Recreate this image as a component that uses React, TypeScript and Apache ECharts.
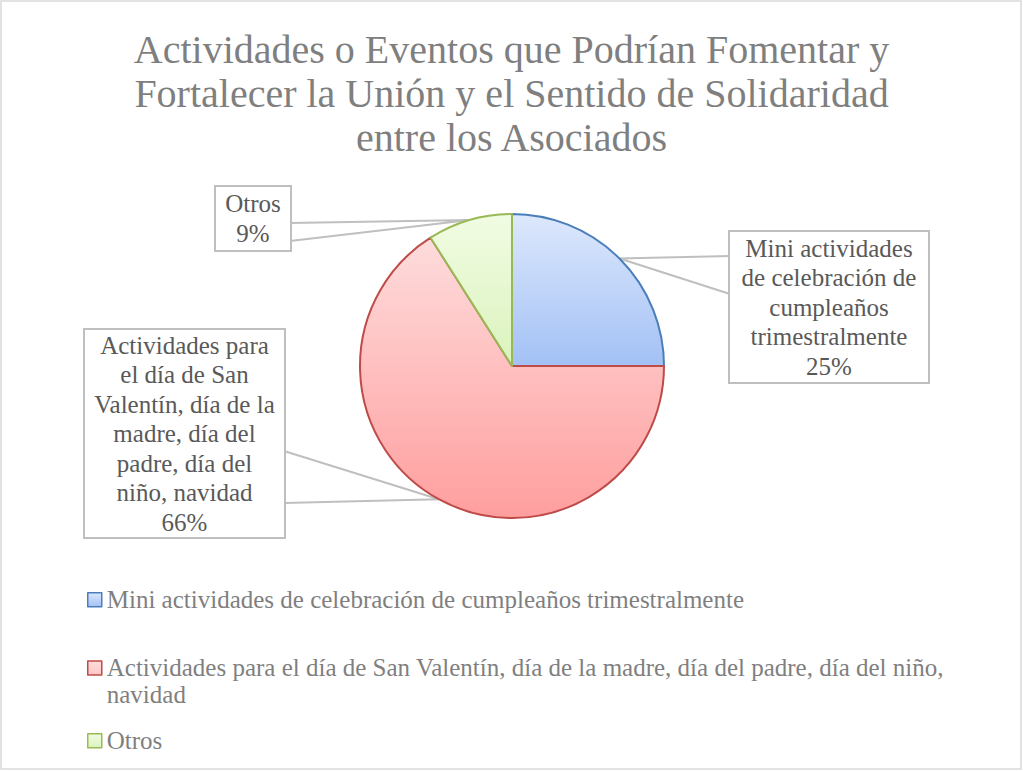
import React, { useEffect, useRef } from "react";
import * as echarts from "echarts";

const titleLines = [
  "Actividades o Eventos que Podrían Fomentar y",
  "Fortalecer la Unión y el Sentido de Solidaridad",
  "entre los Asociados",
];
const categories = [
  "Mini actividades de celebración de cumpleaños trimestralmente",
  "Actividades para el día de San Valentín, día de la madre, día del padre, día del niño, navidad",
  "Otros",
];
const values = [25, 66, 9];
const labelLines = [
  ["Mini actividades", "de celebración de", "cumpleaños", "trimestralmente"],
  ["Actividades para", "el día de San", "Valentín, día de la", "madre, día del", "padre, día del", "niño, navidad"],
  ["Otros"],
];
const legendLines = [
  ["Mini actividades de celebración de cumpleaños trimestralmente"],
  ["Actividades para el día de San Valentín, día de la madre, día del padre, día del niño,", "navidad"],
  ["Otros"],
];

const borderColors = ["#4a7ebb", "#be4b48", "#98b954"];
const gradTop = ["#dde8fc", "#fedcdc", "#f1fce3"];
const gradBottom = ["#a3c1f5", "#ff9e9e", "#dbf3bd"];

// label box layout: center, box edge x, wedge end y's, box size
const boxLayout = [
  { cx: 829, cy: 307, edgeX: 730, y1: 256, y2: 294, w: 180, h: 148 },
  { cx: 184.5, cy: 433.5, edgeX: 284, y1: 451, y2: 503, w: 181, h: 205 },
  { cx: 253, cy: 218.5, edgeX: 290, y1: 223, y2: 241, w: 56, h: 61 },
];

const legendTops = [586, 653.5, 727];
const FONT = "'Liberation Serif', 'DejaVu Serif', serif";

function grad(i: number) {
  return new echarts.graphic.LinearGradient(0, 0, 0, 1, [
    { offset: 0, color: gradTop[i] },
    { offset: 1, color: gradBottom[i] },
  ]);
}

export default function App() {
  const ref = useRef<HTMLDivElement>(null);
  useEffect(() => {
    if (!ref.current) return;
    const chart = echarts.init(ref.current, undefined, { renderer: "svg" });
    const option: any = {
      animation: false,
      backgroundColor: "#ffffff",
      title: {
        text: titleLines.join("\n"),
        left: "center",
        top: 22,
        textStyle: {
          fontFamily: FONT,
          fontSize: 40,
          lineHeight: 44,
          fontWeight: "normal",
          color: "#7f7f7f",
        },
      },
      graphic: [
        {
          type: "rect",
          z: -10,
          shape: { x: 1, y: 1, width: 1020, height: 768 },
          style: { fill: "none", stroke: "#d9d9d9", lineWidth: 1.5 },
        },
      ],
      legend: categories.map((c, i) => ({
        data: [c],
        left: 87,
        top: legendTops[i],
        orient: "vertical",
        padding: 0,
        itemWidth: 14,
        itemHeight: i === 1 ? 40 : 14,
        icon: i === 1 ? "path://M0,0h14v14h-14zM0,40" : "rect",
        selectedMode: false,
        itemStyle: { color: grad(i), borderColor: borderColors[i], borderWidth: 1.5 },
        formatter: () => legendLines[i].join("\n"),
        textStyle: {
          fontFamily: FONT,
          fontSize: 25,
          lineHeight: 27.5,
          color: "#7f7f7f",
        },
      })),
      series: [
        {
          type: "pie",
          center: [512, 366],
          radius: 152,
          startAngle: 90,
          clockwise: true,
          emphasis: { disabled: true },
          data: categories.map((c, i) => ({
            name: c,
            value: values[i],
            itemStyle: { color: grad(i), borderColor: borderColors[i], borderWidth: 2 },
            label: { width: boxLayout[i].w, height: boxLayout[i].h },
          })),
          label: {
            show: true,
            position: "outside",
            formatter: (p: any) =>
              labelLines[p.dataIndex].join("\n") + "\n" + p.percent + "%",
            fontFamily: FONT,
            fontSize: 25,
            lineHeight: 29.5,
            color: "#595959",
            align: "center",
            overflow: "none",
            backgroundColor: "#ffffff",
            borderColor: "#bfbfbf",
            borderWidth: 2,
            padding: [1, 9],
          },
          labelLine: {
            show: true,
            lineStyle: { color: "#bfbfbf", width: 2 },
          },
          labelLayout: (params: any) => {
            const b = boxLayout[params.dataIndex];
            const p = params.labelLinePoints ? params.labelLinePoints[0] : [b.edgeX, b.cy];
            return {
              x: b.cx,
              y: b.cy,
              align: "center",
              verticalAlign: "middle",
              labelLinePoints: [
                [b.edgeX, b.y1],
                [p[0], p[1]],
                [b.edgeX, b.y2],
              ],
            };
          },
        },
      ],
    };
    chart.setOption(option);
    return () => chart.dispose();
  }, []);
  return (
    <div
      ref={ref}
      style={{ position: "absolute", left: 0, top: 0, width: 1023, height: 771 }}
    />
  );
}
